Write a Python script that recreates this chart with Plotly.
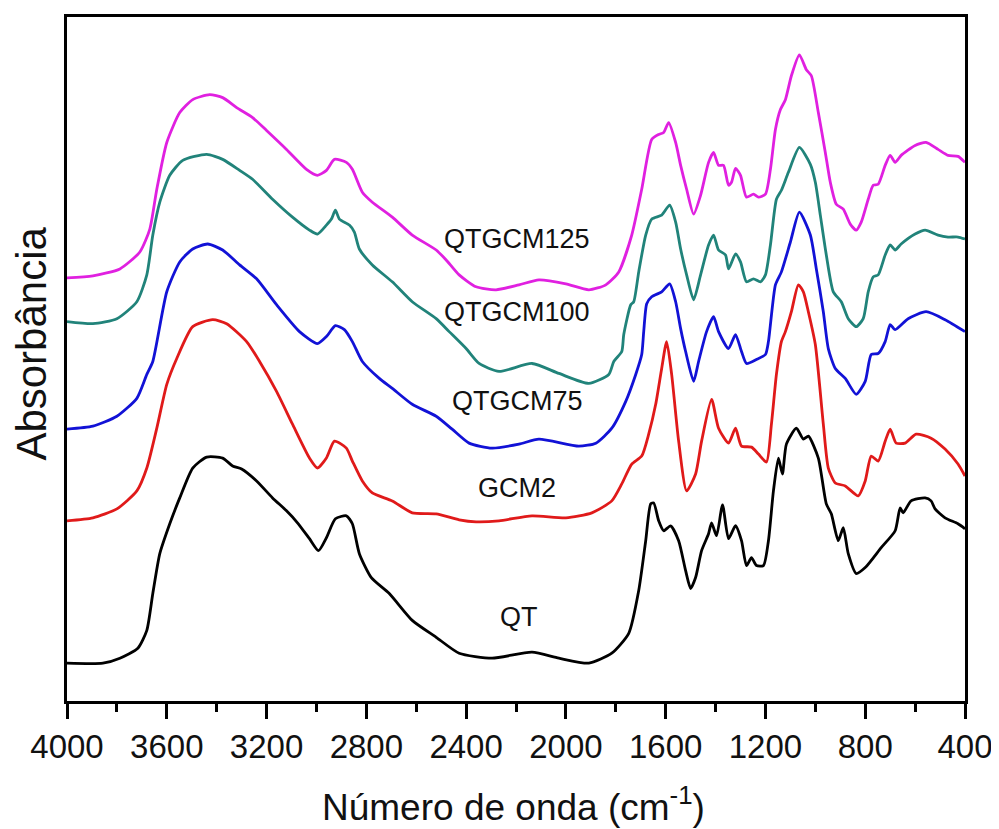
import plotly.graph_objects as go

# ---------------- data ----------------
series_names = ["QTGCM125", "QTGCM100", "QTGCM75", "GCM2", "QT"]
series_colors = ["#E020E0", "#21837A", "#1212D6", "#E01A1A", "#000000"]

wn_qtgcm125 = [4000, 3896, 3788, 3708, 3668, 3640, 3600, 3548, 3496, 3428, 3376, 3320, 3256, 3200, 3120, 3040, 2996, 2960, 2928, 2880, 2856, 2816, 2776, 2696, 2616, 2520, 2480, 2428, 2360, 2280, 2188, 2108, 2000, 1908, 1840, 1788, 1736, 1696, 1656, 1628, 1608, 1588, 1560, 1540, 1516, 1488, 1460, 1428, 1408, 1388, 1368, 1348, 1336, 1320, 1300, 1276, 1248, 1228, 1200, 1180, 1160, 1140, 1120, 1096, 1064, 1036, 1016, 988, 960, 940, 916, 888, 860, 836, 816, 788, 768, 748, 720, 700, 680, 656, 600, 556, 508, 468, 428, 400]
ab_qtgcm125 = [4.25, 4.27, 4.34, 4.51, 4.74, 5.14, 5.61, 5.91, 6.04, 6.09, 6.06, 5.96, 5.86, 5.73, 5.54, 5.34, 5.28, 5.33, 5.44, 5.41, 5.34, 5.11, 5.01, 4.86, 4.68, 4.53, 4.43, 4.28, 4.16, 4.13, 4.18, 4.23, 4.19, 4.13, 4.18, 4.31, 4.68, 5.14, 5.64, 5.69, 5.71, 5.81, 5.61, 5.38, 5.14, 4.89, 5.08, 5.41, 5.51, 5.38, 5.38, 5.18, 5.21, 5.35, 5.28, 5.06, 5.09, 5.06, 5.09, 5.34, 5.74, 5.94, 6.04, 6.28, 6.49, 6.34, 6.28, 5.91, 5.51, 5.21, 4.99, 4.94, 4.79, 4.73, 4.81, 5.04, 5.18, 5.19, 5.38, 5.48, 5.41, 5.48, 5.58, 5.61, 5.54, 5.48, 5.47, 5.41]

wn_qtgcm100 = [4000, 3896, 3800, 3720, 3680, 3656, 3628, 3588, 3536, 3440, 3376, 3308, 3256, 3176, 3096, 3028, 2996, 2960, 2940, 2924, 2908, 2868, 2848, 2828, 2776, 2696, 2616, 2520, 2468, 2400, 2348, 2268, 2136, 2028, 1908, 1828, 1808, 1776, 1768, 1740, 1728, 1708, 1680, 1656, 1616, 1584, 1560, 1540, 1516, 1488, 1460, 1428, 1408, 1388, 1360, 1348, 1320, 1300, 1276, 1248, 1220, 1200, 1180, 1156, 1136, 1108, 1064, 1020, 1000, 980, 956, 928, 896, 868, 836, 808, 788, 768, 748, 720, 700, 680, 656, 600, 560, 508, 468, 428, 400]
ab_qtgcm100 = [3.81, 3.79, 3.84, 4.01, 4.28, 4.68, 5.01, 5.28, 5.43, 5.49, 5.44, 5.33, 5.24, 5.04, 4.86, 4.73, 4.69, 4.78, 4.84, 4.93, 4.84, 4.78, 4.71, 4.54, 4.38, 4.21, 4.01, 3.84, 3.71, 3.54, 3.39, 3.31, 3.39, 3.29, 3.19, 3.28, 3.41, 3.51, 3.68, 3.98, 4.01, 4.31, 4.68, 4.84, 4.88, 4.98, 4.81, 4.54, 4.28, 4.03, 4.28, 4.58, 4.68, 4.53, 4.48, 4.34, 4.49, 4.41, 4.21, 4.24, 4.21, 4.28, 4.58, 5.04, 5.13, 5.31, 5.56, 5.39, 5.21, 4.88, 4.48, 4.11, 4.01, 3.84, 3.76, 3.84, 4.11, 4.26, 4.28, 4.48, 4.58, 4.53, 4.59, 4.69, 4.73, 4.68, 4.66, 4.66, 4.64]

wn_qtgcm75 = [4000, 3896, 3800, 3720, 3680, 3656, 3600, 3548, 3496, 3436, 3376, 3308, 3240, 3160, 3068, 2996, 2960, 2924, 2888, 2856, 2816, 2748, 2696, 2616, 2520, 2456, 2388, 2296, 2188, 2108, 1948, 1880, 1816, 1760, 1720, 1696, 1688, 1676, 1656, 1616, 1584, 1560, 1540, 1520, 1488, 1468, 1436, 1408, 1388, 1348, 1320, 1296, 1276, 1236, 1200, 1188, 1160, 1136, 1100, 1064, 1020, 996, 968, 948, 920, 880, 836, 800, 776, 748, 720, 700, 680, 628, 556, 480, 400]
ab_qtgcm75 = [2.73, 2.76, 2.86, 3.04, 3.28, 3.41, 4.11, 4.41, 4.54, 4.59, 4.53, 4.38, 4.24, 3.98, 3.71, 3.59, 3.66, 3.77, 3.73, 3.61, 3.41, 3.24, 3.14, 2.98, 2.86, 2.73, 2.59, 2.54, 2.58, 2.63, 2.56, 2.59, 2.74, 3.01, 3.28, 3.48, 3.71, 3.99, 4.06, 4.11, 4.19, 4.01, 3.74, 3.51, 3.21, 3.41, 3.71, 3.86, 3.71, 3.54, 3.68, 3.51, 3.39, 3.43, 3.48, 3.61, 4.18, 4.31, 4.61, 4.91, 4.68, 4.34, 3.91, 3.54, 3.34, 3.24, 3.08, 3.21, 3.48, 3.49, 3.61, 3.78, 3.73, 3.84, 3.91, 3.83, 3.71]

wn_gcm2 = [4000, 3896, 3800, 3720, 3680, 3640, 3600, 3560, 3496, 3416, 3360, 3280, 3228, 3160, 3096, 3028, 2996, 2960, 2928, 2880, 2856, 2816, 2776, 2696, 2616, 2520, 2428, 2360, 2268, 2136, 2000, 1896, 1816, 1776, 1736, 1696, 1668, 1640, 1616, 1596, 1576, 1548, 1516, 1480, 1456, 1416, 1388, 1348, 1320, 1296, 1256, 1228, 1196, 1176, 1156, 1136, 1120, 1096, 1068, 1048, 1028, 1000, 968, 948, 920, 880, 828, 800, 776, 748, 720, 700, 676, 640, 596, 536, 480, 428, 400]
ab_gcm2 = [1.81, 1.84, 1.93, 2.11, 2.34, 2.74, 3.18, 3.44, 3.76, 3.83, 3.79, 3.61, 3.41, 3.11, 2.78, 2.44, 2.34, 2.44, 2.61, 2.54, 2.41, 2.21, 2.09, 2.01, 1.89, 1.88, 1.82, 1.80, 1.81, 1.86, 1.84, 1.89, 2.01, 2.18, 2.38, 2.46, 2.68, 2.98, 3.34, 3.61, 3.28, 2.61, 2.11, 2.28, 2.61, 3.03, 2.74, 2.59, 2.74, 2.56, 2.55, 2.48, 2.40, 2.78, 3.28, 3.61, 3.71, 3.91, 4.18, 4.11, 3.91, 3.58, 2.78, 2.34, 2.19, 2.16, 2.06, 2.21, 2.46, 2.41, 2.61, 2.73, 2.59, 2.59, 2.68, 2.64, 2.53, 2.38, 2.26]

wn_qt = [4000, 3856, 3788, 3716, 3680, 3656, 3628, 3588, 3548, 3496, 3440, 3376, 3336, 3300, 3240, 3176, 3120, 3076, 3028, 2992, 2960, 2924, 2880, 2856, 2828, 2780, 2708, 2616, 2520, 2428, 2296, 2136, 2028, 1908, 1816, 1748, 1708, 1680, 1660, 1648, 1628, 1608, 1580, 1548, 1520, 1500, 1480, 1456, 1428, 1416, 1396, 1372, 1348, 1320, 1296, 1276, 1256, 1236, 1208, 1188, 1168, 1148, 1132, 1116, 1076, 1048, 1028, 988, 956, 936, 908, 888, 868, 836, 800, 736, 680, 660, 648, 616, 560, 536, 520, 480, 428, 400]
ab_qt = [0.38, 0.38, 0.43, 0.53, 0.71, 1.08, 1.48, 1.78, 2.04, 2.34, 2.45, 2.44, 2.36, 2.33, 2.21, 2.04, 1.91, 1.79, 1.63, 1.51, 1.64, 1.83, 1.86, 1.78, 1.48, 1.24, 1.08, 0.81, 0.64, 0.48, 0.43, 0.49, 0.43, 0.38, 0.48, 0.68, 1.11, 1.61, 1.98, 1.99, 1.81, 1.71, 1.76, 1.61, 1.31, 1.13, 1.24, 1.51, 1.68, 1.79, 1.66, 1.97, 1.63, 1.76, 1.61, 1.36, 1.44, 1.36, 1.36, 1.61, 2.11, 2.44, 2.28, 2.58, 2.74, 2.63, 2.66, 2.44, 1.98, 1.88, 1.61, 1.74, 1.48, 1.28, 1.34, 1.54, 1.71, 1.94, 1.89, 2.01, 2.04, 2.01, 1.93, 1.84, 1.78, 1.73]

label_wn = [2196, 2196, 2196, 2196, 2188]
label_ab = [4.64, 3.91, 3.01, 2.14, 0.84]

x_tickvals = [4000, 3600, 3200, 2800, 2400, 2000, 1600, 1200, 800, 400]
x_ticktext = ["4000", "3600", "3200", "2800", "2400", "2000", "1600", "1200", "800", "400"]
x_title = "Número de onda (cm<sup>-1</sup>)"
y_title = "Absorbância"

series_wn = [wn_qtgcm125, wn_qtgcm100, wn_qtgcm75, wn_gcm2, wn_qt]
series_ab = [ab_qtgcm125, ab_qtgcm100, ab_qtgcm75, ab_gcm2, ab_qt]

# ---------------- figure ----------------
FONT = "Liberation Sans, Arial, Helvetica, sans-serif"
fig = go.Figure()
for name, color, xs, ys in zip(series_names, series_colors, series_wn, series_ab):
    fig.add_trace(go.Scatter(x=xs, y=ys, mode="lines", name=name,
                             line=dict(color=color, width=2.8, shape="spline", smoothing=0.6),
                             showlegend=False, hoverinfo="skip"))

for name, lx, ly in zip(series_names, label_wn, label_ab):
    fig.add_annotation(x=lx, y=ly, xref="x", yref="y", text=name, showarrow=False,
                       font=dict(family=FONT, size=27, color="#111111"),
                       xanchor="center", yanchor="middle")

fig.add_annotation(x=0.497, y=-0.152, xref="paper", yref="paper", text=x_title, showarrow=False,
                   font=dict(family=FONT, size=37, color="#111111"),
                   xanchor="center", yanchor="middle")
fig.add_annotation(x=-0.040, y=0.5226, xref="paper", yref="paper", text=y_title, showarrow=False,
                   textangle=-90, font=dict(family=FONT, size=42, color="#111111"),
                   xanchor="center", yanchor="middle")

# page body has an 8px margin, so the figure is sized to fit the 999x829 window
fig.update_layout(
    width=991, height=821,
    margin=dict(l=59, r=31, t=6, b=128),
    paper_bgcolor="white", plot_bgcolor="white",
    font=dict(family=FONT, color="#111111"),
)
fig.update_xaxes(range=[4000, 400], tickvals=x_tickvals, ticktext=x_ticktext,
                 showline=True, linecolor="black", linewidth=2.5, mirror=True,
                 ticks="outside", ticklen=15, tickwidth=2.5, tickcolor="black",
                 tickfont=dict(family=FONT, size=33, color="#111111"),
                 minor=dict(dtick=200, ticks="outside", ticklen=8, tickwidth=2.5, tickcolor="black"),
                 showgrid=False, zeroline=False)
fig.update_yaxes(range=[0, 6.87], showline=True, linecolor="black", linewidth=2.5, mirror=True,
                 showticklabels=False, ticks="", showgrid=False, zeroline=False)

fig.write_html("out.html")
